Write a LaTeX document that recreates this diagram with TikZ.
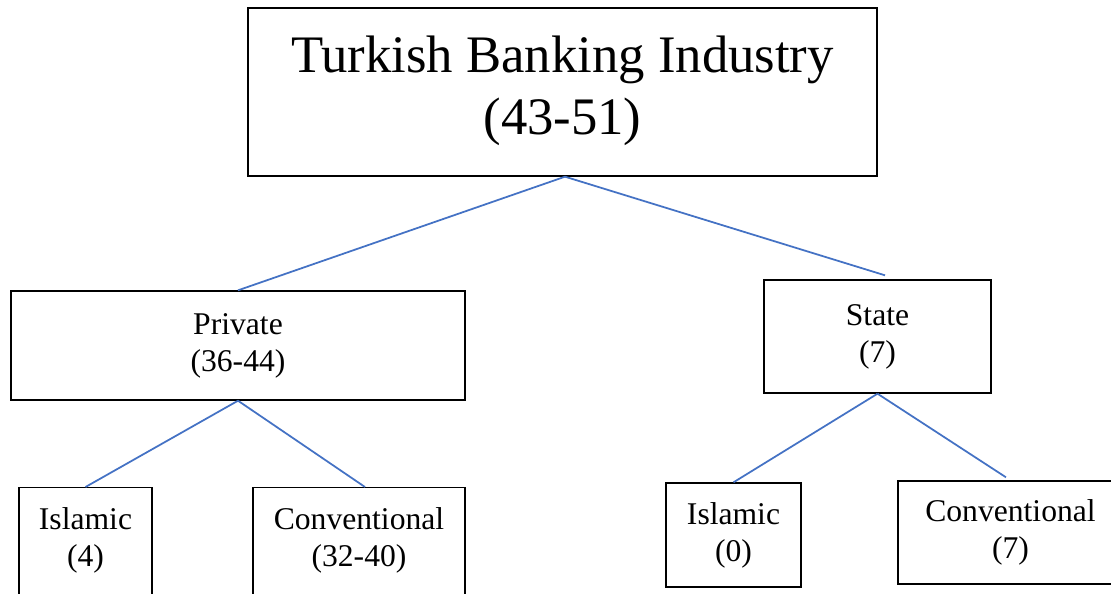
\documentclass[tikz,border=0pt]{standalone}
\usepackage{fontspec}
\setmainfont{Liberation Serif}
\usetikzlibrary{calc}
\definecolor{lineblue}{HTML}{4472C4}
\begin{document}
\begin{tikzpicture}[x=0.02cm, y=-0.02cm,
    box/.style={draw, line width=0.8pt, align=center, inner sep=0pt,
        font={\fontsize{18}{21}\selectfont}},
    link/.style={draw=lineblue, line width=1pt}]

    \useasboundingbox (0,0) rectangle (1111,593);

    % Top box
    \node[box, minimum width=12.58cm, minimum height=3.36cm,
        font={\fontsize{30}{35}\selectfont}] (industry) at (562.5,92)
        {Turkish Banking Industry\\(43-51)\\[-27pt]\mbox{}};
    % Second level
    \node[box, minimum width=9.08cm, minimum height=2.18cm] (private) at (238,345.5)
        {Private\\(36-44)};
    \node[box, minimum width=4.54cm, minimum height=2.26cm] (state) at (877.5,336.5)
        {State\\(7)};
    % Third level (left ones and the right one run past the edges)
    \node[box, anchor=north, minimum width=2.66cm, inner ysep=11.5pt] (privislamic) at (85.5,487)
        {Islamic\\(4)\\[24pt]\mbox{}};
    \node[box, anchor=north, minimum width=4.24cm, inner ysep=11.5pt] (privconv) at (359,487)
        {Conventional\\(32-40)\\[24pt]\mbox{}};
    \node[box, minimum width=2.70cm, minimum height=2.08cm] (stateislamic) at (733.5,535)
        {Islamic\\(0)};
    \node[box, minimum width=4.5cm, minimum height=2.06cm] (stateconv) at (1010.5,532.5)
        {Conventional\\(7)};

    % Lines
    \path[link] ($(industry.south)+(2.5,0)$) -- (private.north);
    \path[link] ($(industry.south)+(2.5,0)$) -- ($(state.north)+(7.5,-4)$);
    \path[link] (private.south) -- (privislamic.north);
    \path[link] (private.south) -- ($(privconv.north)+(6,0)$);
    \path[link] (state.south) -- (stateislamic.north);
    \path[link] (state.south) -- ($(stateconv.north)+(-4.5,-3)$);

\end{tikzpicture}
\end{document}
